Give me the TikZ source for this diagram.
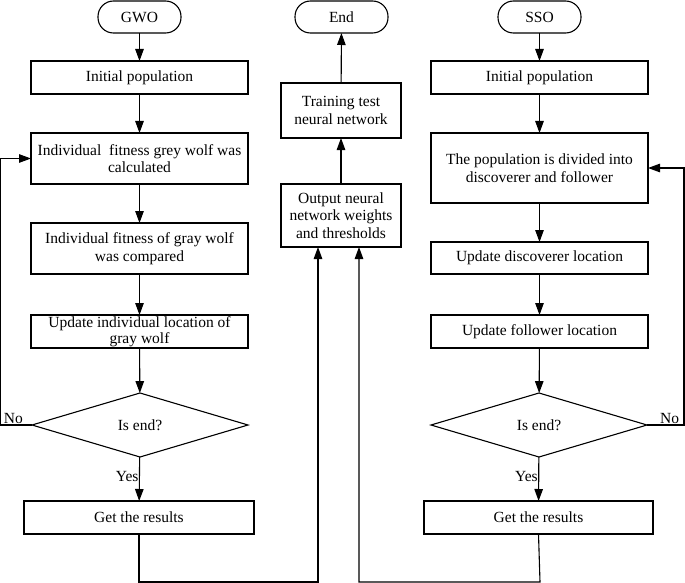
\documentclass[tikz,border=0pt]{standalone}
\usepackage{fontspec}
\setmainfont{Liberation Serif}
\usetikzlibrary{arrows.meta,shapes.geometric}
\newcommand{\myfs}{\fontsize{15.5}{17.5}\selectfont}
\begin{document}
\begin{tikzpicture}[x=1pt,y=-1pt,
  every node/.style={font=\myfs, inner sep=0pt, outer sep=0pt},
  stepbox/.style={draw, line width=1.1pt, align=center, rectangle},
  term/.style={draw, line width=1.1pt, rounded corners=15.5pt, minimum height=32pt, align=center},
  decide/.style={draw, line width=1.1pt, diamond, aspect=3.4, minimum width=216pt, minimum height=64pt},
  arr/.style={line width=1.1pt, -{Triangle[length=12pt,width=8.5pt]}},
  ln/.style={line width=1.1pt}]
\useasboundingbox (0,0) rectangle (685,583);

% left column
\node[term, minimum width=83pt] (gwo) at (139.5,17) {GWO};
\node[stepbox, minimum width=217pt, minimum height=33pt] (ip1) at (139.5,77.5) {Initial population};
\node[stepbox, minimum width=217pt, minimum height=51pt] (calc) at (139.5,158.5) {Individual\ \ fitness grey wolf was\\calculated};
\node[stepbox, minimum width=217pt, minimum height=51pt] (comp) at (139.5,248.5) {Individual fitness of gray wolf\\was compared};
\node[stepbox, minimum width=217pt, minimum height=33pt, font=\fontsize{15.5}{16}\selectfont] (upd) at (139.5,331.5) {Update individual location of\\gray wolf};
\node[decide] (dia1) at (140,425) {Is end?};
\node[stepbox, minimum width=230pt, minimum height=33pt] (res1) at (139,517.5) {Get the results};

% middle column
\node[term, minimum width=93pt] (end) at (341.5,17) {End};
\node[stepbox, minimum width=120pt, minimum height=55pt] (train) at (341,110.5) {Training test\\neural network};
\node[stepbox, minimum width=120pt, minimum height=63pt] (out) at (341,215.5) {Output neural\\network weights\\and thresholds};

% right column
\node[term, minimum width=83pt] (sso) at (539.5,17) {SSO};
\node[stepbox, minimum width=217pt, minimum height=33pt] (ip2) at (539.5,77.5) {Initial population};
\node[stepbox, minimum width=217pt, minimum height=70pt] (div) at (539.5,168) {The population is divided into\\discoverer and follower};
\node[stepbox, minimum width=217pt, minimum height=32pt] (disc) at (539.5,258) {Update discoverer location};
\node[stepbox, minimum width=217pt, minimum height=33pt] (fol) at (539.5,331.5) {Update follower location};
\node[decide] (dia2) at (539,425) {Is end?};
\node[stepbox, minimum width=229pt, minimum height=33pt] (res2) at (538.5,517.5) {Get the results};

% coordinates
\coordinate (lcorner) at (0.6,425);
\coordinate (rcorner) at (684,425);
\coordinate (lbot) at (139,582);
\coordinate (rbot) at (540,582);
\coordinate (inL) at (318,247);
\coordinate (inR) at (359,247);

% left connectors
\draw[arr] (gwo) -- (ip1);
\draw[arr] (ip1) -- (calc);
\draw[arr] (calc) -- (comp);
\draw[arr] (comp) -- (upd);
\draw[arr] (upd) -- (dia1);
\draw[arr] (dia1) -- node[left=1pt, pos=0.45] (yes1) {Yes} (res1);
\draw[arr] (dia1.west) -- (lcorner) |- (calc.west);
\node[anchor=south west] (no1) at (4,424) {No};
\draw[arr] (res1.south) -- (lbot) -| (inL);

% right connectors
\draw[arr] (sso) -- (ip2);
\draw[arr] (ip2) -- (div);
\draw[arr] (div) -- (disc);
\draw[arr] (disc) -- (fol);
\draw[arr] (fol) -- (dia2);
\draw[arr] (dia2) -- node[left=1pt, pos=0.45] (yes2) {Yes} (res2);
\draw[arr] (dia2.east) -- (rcorner) |- (div.east);
\node[anchor=south east] (no2) at (679,424) {No};
\draw[arr] (res2.south) -- (rbot) -| (inR);

% middle connectors
\draw[arr] (out) -- (train);
\draw[arr] (train) -- (end);
\end{tikzpicture}
\end{document}
